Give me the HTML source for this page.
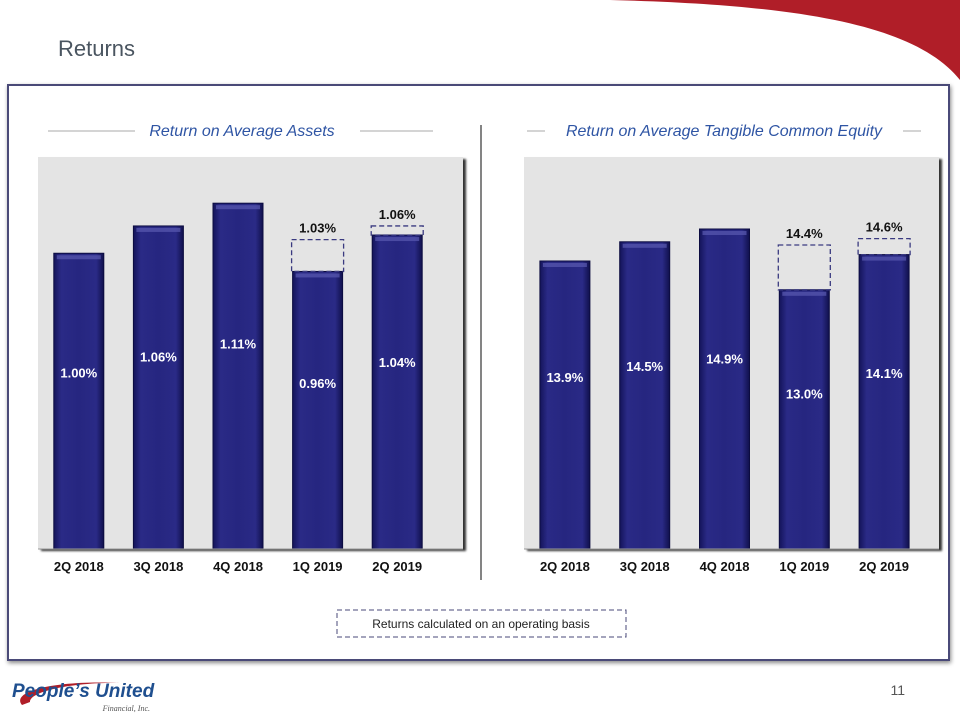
<!DOCTYPE html>
<html><head><meta charset="utf-8"><style>
body{margin:0;width:960px;height:720px;overflow:hidden;background:#fff;font-family:"Liberation Sans",sans-serif;position:relative}
.abs{position:absolute}
</style></head><body>
<svg class="abs" style="left:0;top:0" width="960" height="720">
<defs>
<linearGradient id="bar" x1="0" x2="1" y1="0" y2="0">
<stop offset="0" stop-color="#14145a"/><stop offset="0.15" stop-color="#2a2a86"/><stop offset="0.5" stop-color="#262680"/><stop offset="0.85" stop-color="#2a2a86"/><stop offset="1" stop-color="#10104c"/>
</linearGradient>
</defs>
<path d="M610,0 L960,0 L960,80 C920,30 820,5 610,0 Z" fill="#b01e28"/>
<text x="58" y="56" font-size="22" fill="#4a5560">Returns</text>
<rect x="8" y="85" width="941" height="575" fill="#fff" stroke="#4a4a78" stroke-width="2" style="filter:drop-shadow(1px 2px 2px #888)"/>
<line x1="481" y1="125" x2="481" y2="580" stroke="#333" stroke-width="1.2"/>
<g id="left"></g><g id="right"></g>
<rect x="337" y="610" width="289" height="27" fill="#fff" stroke="#4a4a78" stroke-dasharray="5,3"/>
<text x="481" y="628" font-size="12" text-anchor="middle" fill="#222">Returns calculated on an operating basis</text>
<text x="905" y="695" font-size="14" text-anchor="end" fill="#555">11</text>
<g>
<path d="M22,705 C10,690 60,680 120,683 C80,682 30,690 30,702 Z" fill="#b01e28"/>
<text x="12" y="697" font-size="19" font-weight="bold" font-style="italic" fill="#1f4f8f">People’s United</text>
<text x="150" y="711" font-size="8" font-style="italic" fill="#555" text-anchor="end" font-family="Liberation Serif,serif">Financial, Inc.</text>
</g>
</svg>
<script>
const cats=["2Q 2018","3Q 2018","4Q 2018","1Q 2019","2Q 2019"];
const roaVals=[1.00,1.06,1.11,0.96,1.04];
const roaLabels=["1.00%","1.06%","1.11%","0.96%","1.04%"];
const roaAdj=[null,null,null,1.03,1.06];
const roaAdjLabels=["","","","1.03%","1.06%"];
const roteVals=[13.9,14.5,14.9,13.0,14.1];
const roteLabels=["13.9%","14.5%","14.9%","13.0%","14.1%"];
const roteAdj=[null,null,null,14.4,14.6];
const roteAdjLabels=["","","","14.4%","14.6%"];
const NS="http://www.w3.org/2000/svg";
function mk(g,tag,a){const e=document.createElementNS(NS,tag);for(const k in a)e.setAttribute(k,a[k]);g.appendChild(e);return e;}
function chart(g,o){
  const bg=mk(g,'rect',{x:o.x0,y:o.y0,width:o.x1-o.x0,height:o.base-o.y0,fill:'#e4e4e4',style:'filter:drop-shadow(3px 2px 1px #333)'});
  
  
  const tl=mk(g,'text',{x:o.tx,y:136,'font-size':16,'font-style':'italic','text-anchor':'middle',fill:'#2f55a4'});
  tl.textContent=o.title;
  
  
  mk(g,'line',{x1:o.l1[0],x2:o.l1[1],y1:131,y2:131,stroke:'#aaa'});
  mk(g,'line',{x1:o.l2[0],x2:o.l2[1],y1:131,y2:131,stroke:'#aaa'});
  const step=o.bw/cats.length;
  const y=v=>o.base-(v-o.min)*o.scale;
  cats.forEach((c,i)=>{
    const cx=o.bx+step*(i+0.5),w=50,t=y(o.vals[i]);
    const b=mk(g,'rect',{x:cx-w/2,y:t,width:w,height:o.base-t,fill:'url(#bar)',stroke:'#0c0c40','stroke-width':1});
    
    
    mk(g,'rect',{x:cx-w/2+3,y:t+2,width:w-6,height:4,fill:'#5a5ab0',opacity:0.7});
    const lb=mk(g,'text',{x:cx,y:t+(o.base-t)*0.42,'font-size':13,'font-weight':'bold','text-anchor':'middle',fill:'#fff'});
    lb.textContent=o.labels[i];
    
    
    if(o.adj[i]!=null){
      const at=y(o.adj[i]);
      const d=mk(g,'rect',{x:cx-w/2-1,y:at,width:w+2,height:t-at,fill:'none',stroke:'#3a3a80','stroke-width':1.3,'stroke-dasharray':'5,3'});
      
      
      const al=mk(g,'text',{x:cx,y:at-7,'font-size':13,'font-weight':'bold','text-anchor':'middle',fill:'#111'});
      al.textContent=o.adjLabels[i];
      
      
    }
    const xl=mk(g,'text',{x:cx,y:571,'font-size':13,'font-weight':'bold','text-anchor':'middle',fill:'#111'});
    xl.textContent=c;
    
    
  });
  mk(g,'line',{x1:o.x0,x2:o.x1,y1:o.base,y2:o.base,stroke:'#999'});
}
chart(document.getElementById('left'),{x0:38,x1:463,bx:39,bw:398,y0:157,base:549,min:0.35,scale:455,vals:roaVals,labels:roaLabels,adj:roaAdj,adjLabels:roaAdjLabels,title:'Return on Average Assets',tx:242,l1:[48,135],l2:[360,433]});
chart(document.getElementById('right'),{x0:524,x1:939,bx:525,bw:399,y0:157,base:549,min:4.9,scale:32,vals:roteVals,labels:roteLabels,adj:roteAdj,adjLabels:roteAdjLabels,title:'Return on Average Tangible Common Equity',tx:724,l1:[527,545],l2:[903,921]});
</script>
</body></html>
